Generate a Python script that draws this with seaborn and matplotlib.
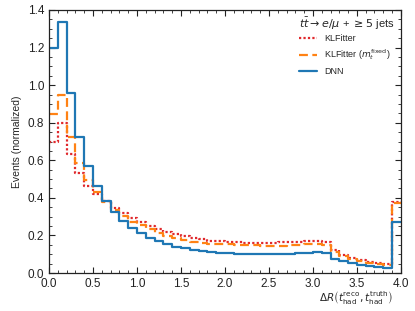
import numpy as np
import pandas as pd
import matplotlib
matplotlib.use('Agg')
import matplotlib.pyplot as plt
from matplotlib.lines import Line2D
from matplotlib.ticker import MultipleLocator
import seaborn as sns

# bin edges 0..4 in steps of 0.1
bin_edges = [round(0.1 * i, 2) for i in range(41)]

klfitter = [0.700, 0.800, 0.635, 0.533, 0.464, 0.421, 0.382, 0.348, 0.320, 0.295,
            0.273, 0.252, 0.233, 0.220, 0.208, 0.198, 0.189, 0.180, 0.173, 0.168,
            0.165, 0.163, 0.162, 0.162, 0.162, 0.162, 0.163, 0.165, 0.167, 0.170,
            0.172, 0.167, 0.122, 0.098, 0.078, 0.067, 0.060, 0.054, 0.048, 0.378]

klfitter_fixed = [0.844, 0.947, 0.722, 0.587, 0.495, 0.432, 0.377, 0.337, 0.304, 0.274,
                  0.255, 0.232, 0.212, 0.197, 0.185, 0.176, 0.167, 0.161, 0.157, 0.154,
                  0.152, 0.150, 0.148, 0.147, 0.146, 0.146, 0.146, 0.147, 0.149, 0.152,
                  0.156, 0.149, 0.113, 0.089, 0.073, 0.062, 0.055, 0.050, 0.043, 0.371]

dnn = [1.200, 1.337, 0.960, 0.725, 0.570, 0.465, 0.385, 0.327, 0.278, 0.241,
       0.214, 0.189, 0.168, 0.153, 0.141, 0.131, 0.123, 0.118, 0.113, 0.109,
       0.105, 0.103, 0.102, 0.101, 0.101, 0.101, 0.101, 0.103, 0.106, 0.109,
       0.112, 0.108, 0.074, 0.064, 0.052, 0.043, 0.036, 0.030, 0.025, 0.273]

methods = ['KLFitter', 'KLFitter fixed', 'DNN']
labels = ['KLFitter', r'KLFitter ($m_t^{\rm fixed}$)', 'DNN']
colors = ['#e0282c', '#ff8214', '#1f77b4']
styles = [(0, (1, 1)), (0, (4, 2)), '-']

edges = np.array(bin_edges)
centers = (edges[:-1] + edges[1:]) / 2
df = pd.concat([
    pd.DataFrame({'dR': centers, 'weight': vals, 'method': m})
    for m, vals in zip(methods, [klfitter, klfitter_fixed, dnn])
])

sns.set_style('ticks')
plt.rcParams['font.family'] = ['Liberation Sans', 'DejaVu Sans']
plt.rcParams['mathtext.fontset'] = 'dejavusans'

fig = plt.figure(figsize=(4.15, 3.11), dpi=100)
ax = fig.add_axes([0.118, 0.122, 0.848, 0.846])

for m, c, ls in zip(methods, colors, styles):
    sns.histplot(data=df[df['method'] == m], x='dR', weights='weight', bins=bin_edges,
                 element='step', fill=False, color=c, linestyle=ls, linewidth=1.6, ax=ax)

ax.set_xlim(0, 4)
ax.set_ylim(0, 1.4)
ax.xaxis.set_major_locator(MultipleLocator(0.5))
ax.xaxis.set_minor_locator(MultipleLocator(0.1))
ax.yaxis.set_major_locator(MultipleLocator(0.2))
ax.yaxis.set_minor_locator(MultipleLocator(0.05))
ax.tick_params(which='both', direction='in', top=True, right=True, labelsize=8.5,
               colors='#222222')
ax.tick_params(which='major', length=4.5, width=0.8)
ax.tick_params(which='minor', length=2.2, width=0.6)
for s in ax.spines.values():
    s.set_linewidth(0.9)
    s.set_color('#222222')

ax.set_ylabel('Events (normalized)', fontsize=7.5)
ax.set_xlabel(r'$\Delta R\left(t_{\rm had}^{\rm reco}, t_{\rm had}^{\rm truth}\right)$',
              fontsize=7.5, ha='right', va='top')
ax.xaxis.set_label_coords(0.977, -0.062)

handles = [Line2D([], [], color=c, linestyle=ls, linewidth=1.6) for c, ls in zip(colors, styles)]
leg = ax.legend(handles, labels, loc='upper right', frameon=False, fontsize=6.5,
                title=r'$t\bar{t} \rightarrow e/\mu$ + $\geq 5$ jets', title_fontsize=8,
                handlelength=2.0, borderaxespad=0.3, labelspacing=0.5)
leg._legend_box.align = 'left'
leg._legend_box.sep = 1

fig.savefig('out.png', dpi=100)
